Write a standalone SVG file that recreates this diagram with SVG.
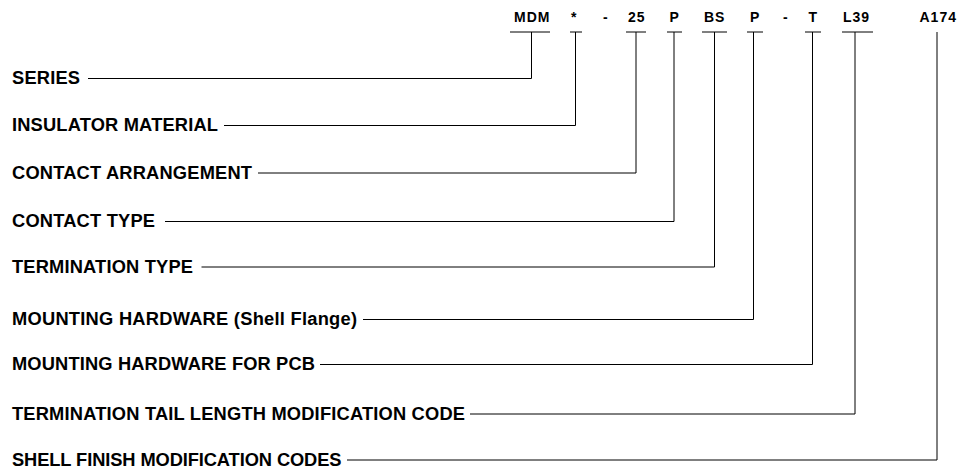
<svg xmlns="http://www.w3.org/2000/svg" width="974" height="470" viewBox="0 0 974 470">
<style>
.lbl{font-family:"Liberation Sans",Arial,sans-serif;font-weight:bold;font-size:18.3px;fill:#000}
.code{font-family:"Liberation Sans",Arial,sans-serif;font-weight:bold;font-size:14px;letter-spacing:1px;fill:#000}
.ln{fill:none;stroke:#000;stroke-width:1}
</style>
<rect width="974" height="470" fill="#fff"/>
<g id="codes">
<g id="code-mdm"><text class="code" x="514" y="21.7">MDM</text></g>
<g id="code-star"><text class="code" x="571" y="21.7">*</text></g>
<g id="code-dash1"><text class="code" x="603" y="21.7">-</text></g>
<g id="code-25"><text class="code" x="628" y="21.7">25</text></g>
<g id="code-p1"><text class="code" x="669.5" y="21.7">P</text></g>
<g id="code-bs"><text class="code" x="704" y="21.7">BS</text></g>
<g id="code-p2"><text class="code" x="750" y="21.7">P</text></g>
<g id="code-dash2"><text class="code" x="783" y="21.7">-</text></g>
<g id="code-t"><text class="code" x="808.5" y="21.7">T</text></g>
<g id="code-l39"><text class="code" x="843" y="21.7">L39</text></g>
<g id="code-a174"><text class="code" x="919.5" y="21.7">A174</text></g>
</g>
<g id="labels">
<g id="series"><text class="lbl" x="12" y="84" textLength="68">SERIES</text></g>
<g id="insulator"><text class="lbl" x="12" y="131" textLength="206">INSULATOR MATERIAL</text></g>
<g id="arrangement"><text class="lbl" x="12" y="179" textLength="240">CONTACT ARRANGEMENT</text></g>
<g id="contact-type"><text class="lbl" x="12" y="227" textLength="143">CONTACT TYPE</text></g>
<g id="termination-type"><text class="lbl" x="12" y="273" textLength="181">TERMINATION TYPE</text></g>
<g id="mounting-flange"><text class="lbl" x="12" y="325" textLength="345">MOUNTING HARDWARE (Shell Flange)</text></g>
<g id="mounting-pcb"><text class="lbl" x="12" y="370" textLength="303">MOUNTING HARDWARE FOR PCB</text></g>
<g id="tail-length"><text class="lbl" x="12" y="420" textLength="453">TERMINATION TAIL LENGTH MODIFICATION CODE</text></g>
<g id="shell-finish"><text class="lbl" x="12" y="466" textLength="329.5">SHELL FINISH MODIFICATION CODES</text></g>
</g>
<g id="connectors">
<path class="ln" d="M510 32H550M570 32H582M626 32H646M667 32H682M702 32H727M747 32H763M805 32H821M842 32H873"/>
<path class="ln" d="M88 78.5H531.5V32"/>
<path class="ln" d="M224 125.5H575.5V32"/>
<path class="ln" d="M258 173H636V32"/>
<path class="ln" d="M165 221.5H674V32"/>
<path class="ln" d="M201.5 267H714.5V32"/>
<path class="ln" d="M363 319.5H753.5V32"/>
<path class="ln" d="M320 364.5H812.5V32"/>
<path class="ln" d="M470 414H855V32"/>
<path class="ln" d="M347 460H937V32"/>
</g>
</svg>
